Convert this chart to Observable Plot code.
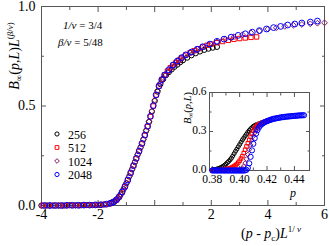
<!DOCTYPE html>
<html><head><meta charset="utf-8">
<script src="https://cdn.jsdelivr.net/npm/d3@7"></script>
<script src="https://cdn.jsdelivr.net/npm/@observablehq/plot@0.6"></script>
<style>
body{margin:0;background:#fff;}
#c{position:relative;width:329px;height:246px;font-family:"Liberation Serif","Times New Roman",serif;}
#c svg{position:absolute;overflow:visible;}
</style></head><body><div id="c"></div>
<script>
// ---- data ----
const sizes = ["256", "512", "1024", "2048"];
const colors = ["#000000", "#ff0000", "#8b1a6b", "#0000ff"];
const symbols = ["circle", "square", "diamond2", "circle"];

// main panel: [(p - pc) L^(1/nu), B L^(beta/nu)]
const s256 = [[-4,0],[-3.8,0],[-3.6,0],[-3.4,0],[-3.2,0],[-3,0.001],[-2.8,0.001],[-2.6,0.001],[-2.4,0.002],[-2.2,0.002],[-2,0.003],[-1.8,0.005],[-1.6,0.01],[-1.5,0.015],[-1.4,0.023],[-1.3,0.036],[-1.2,0.056],[-1.1,0.082],[-1,0.112],[-0.9,0.146],[-0.8,0.182],[-0.7,0.218],[-0.6,0.256],[-0.5,0.292],[-0.4,0.332],[-0.3,0.376],[-0.2,0.42],[-0.1,0.472],[0,0.525],[0.1,0.572],[0.2,0.61],[0.3,0.635],[0.4,0.655],[0.5,0.67],[0.6,0.684],[0.7,0.697],[0.8,0.708],[0.9,0.72],[1,0.73],[1.15,0.743],[1.3,0.755],[1.45,0.765],[1.6,0.774],[1.75,0.782],[1.9,0.788],[2.05,0.793],[2.2,0.797]];
const s512 = [[-3.95,0],[-3.75,0],[-3.55,0],[-3.35,0],[-3.15,0],[-2.95,0.001],[-2.75,0.001],[-2.55,0.001],[-2.35,0.002],[-2.15,0.002],[-1.95,0.003],[-1.75,0.005],[-1.6,0.009],[-1.45,0.018],[-1.35,0.028],[-1.25,0.044],[-1.15,0.067],[-1.05,0.095],[-0.95,0.128],[-0.85,0.163],[-0.75,0.2],[-0.65,0.236],[-0.55,0.273],[-0.45,0.31],[-0.35,0.352],[-0.25,0.397],[-0.15,0.447],[-0.05,0.5],[0.05,0.555],[0.15,0.6],[0.25,0.633],[0.35,0.656],[0.45,0.675],[0.55,0.692],[0.65,0.706],[0.75,0.718],[0.85,0.73],[0.95,0.741],[1.1,0.756],[1.25,0.768],[1.4,0.778],[1.55,0.788],[1.7,0.797],[1.85,0.805],[2,0.811],[2.2,0.818],[2.4,0.824],[2.6,0.83],[2.8,0.835],[3,0.839],[3.2,0.842],[3.4,0.845],[3.6,0.847]];
const s1024 = [[-4,0],[-3.85,0],[-3.7,0],[-3.55,0],[-3.4,0],[-3.25,0],[-3.1,0.001],[-2.95,0.001],[-2.8,0.001],[-2.65,0.001],[-2.5,0.002],[-2.35,0.002],[-2.2,0.002],[-2.05,0.003],[-1.9,0.004],[-1.75,0.006],[-1.6,0.01],[-1.5,0.015],[-1.4,0.023],[-1.3,0.036],[-1.2,0.056],[-1.1,0.082],[-1,0.112],[-0.9,0.146],[-0.8,0.182],[-0.7,0.218],[-0.6,0.256],[-0.5,0.292],[-0.4,0.333],[-0.3,0.377],[-0.2,0.422],[-0.1,0.475],[0,0.53],[0.1,0.578],[0.2,0.615],[0.3,0.642],[0.45,0.67],[0.6,0.697],[0.75,0.72],[0.9,0.738],[1.05,0.752],[1.25,0.767],[1.45,0.781],[1.65,0.794],[1.9,0.808],[2.2,0.822],[2.5,0.836],[2.8,0.848],[3.1,0.858],[3.4,0.868],[3.7,0.877],[4,0.886],[4.3,0.893],[4.6,0.9],[4.9,0.906],[5.2,0.91],[5.5,0.913],[5.75,0.916],[6,0.918]];
const s2048 = [[-3.9,0],[-3.7,0],[-3.5,0],[-3.3,0],[-3.1,0.001],[-2.9,0.001],[-2.7,0.001],[-2.5,0.002],[-2.3,0.002],[-2.1,0.003],[-1.9,0.004],[-1.7,0.007],[-1.55,0.012],[-1.45,0.018],[-1.35,0.029],[-1.25,0.045],[-1.15,0.068],[-1.05,0.096],[-0.95,0.128],[-0.85,0.164],[-0.75,0.2],[-0.65,0.237],[-0.55,0.274],[-0.45,0.312],[-0.35,0.354],[-0.25,0.398],[-0.15,0.448],[-0.05,0.502],[0.05,0.556],[0.15,0.6],[0.25,0.632],[0.35,0.656],[0.5,0.682],[0.65,0.706],[0.8,0.726],[0.95,0.743],[1.1,0.757],[1.3,0.771],[1.5,0.785],[1.7,0.798],[1.95,0.811],[2.2,0.825],[2.45,0.836],[2.7,0.846],[2.95,0.855],[3.2,0.863],[3.45,0.871],[3.7,0.879],[3.95,0.887],[4.2,0.894],[4.45,0.9],[4.7,0.907],[4.95,0.912],[5.2,0.917],[5.5,0.922],[5.75,0.927]];

// inset: [p, B_inf(p,L)]
const i256 = [[0.380,0.005],[0.381,0.006],[0.382,0.008],[0.383,0.01],[0.384,0.013],[0.385,0.017],[0.386,0.021],[0.387,0.027],[0.388,0.033],[0.389,0.041],[0.390,0.05],[0.391,0.06],[0.392,0.07],[0.393,0.082],[0.394,0.095],[0.395,0.112],[0.396,0.13],[0.397,0.148],[0.398,0.165],[0.399,0.183],[0.400,0.2],[0.401,0.218],[0.402,0.235],[0.403,0.25],[0.404,0.265],[0.405,0.28],[0.406,0.295],[0.407,0.308],[0.408,0.32],[0.409,0.33],[0.410,0.34],[0.411,0.346],[0.412,0.352],[0.414,0.36],[0.416,0.368],[0.418,0.375],[0.420,0.382]];
const i512 = [[0.380,0.001],[0.382,0.002],[0.384,0.003],[0.386,0.004],[0.388,0.006],[0.389,0.008],[0.390,0.01],[0.391,0.012],[0.392,0.015],[0.393,0.018],[0.394,0.022],[0.395,0.027],[0.396,0.033],[0.397,0.041],[0.398,0.05],[0.399,0.061],[0.400,0.075],[0.401,0.092],[0.402,0.11],[0.403,0.134],[0.404,0.16],[0.405,0.185],[0.406,0.21],[0.407,0.235],[0.408,0.26],[0.409,0.283],[0.410,0.305],[0.411,0.323],[0.412,0.338],[0.413,0.348],[0.414,0.356],[0.416,0.366],[0.418,0.374],[0.420,0.381],[0.422,0.387]];
const i1024 = [[0.380,0],[0.382,0],[0.384,0],[0.386,0],[0.388,0.001],[0.390,0.001],[0.392,0.001],[0.394,0.002],[0.396,0.002],[0.398,0.003],[0.399,0.004],[0.400,0.006],[0.401,0.01],[0.402,0.018],[0.403,0.033],[0.404,0.057],[0.405,0.088],[0.406,0.123],[0.407,0.16],[0.408,0.197],[0.409,0.234],[0.410,0.264],[0.411,0.29],[0.412,0.313],[0.413,0.33],[0.414,0.343],[0.415,0.352],[0.417,0.365],[0.419,0.374],[0.421,0.382],[0.423,0.388]];
const i2048 = [[0.380,0],[0.381,0],[0.382,0],[0.383,0],[0.384,0],[0.385,0],[0.386,0],[0.387,0],[0.388,0],[0.389,0],[0.390,0],[0.391,0],[0.392,0],[0.393,0],[0.394,0],[0.395,0],[0.396,0],[0.397,0],[0.398,0],[0.399,0],[0.400,0],[0.401,0],[0.402,0],[0.403,0],[0.404,0.001],[0.405,0.005],[0.406,0.02],[0.407,0.055],[0.408,0.105],[0.409,0.155],[0.410,0.205],[0.411,0.248],[0.412,0.283],[0.413,0.31],[0.414,0.33],[0.415,0.345],[0.416,0.355],[0.417,0.363],[0.418,0.37],[0.419,0.375],[0.420,0.38],[0.421,0.384],[0.422,0.388],[0.423,0.392],[0.424,0.395],[0.425,0.398],[0.426,0.4],[0.427,0.402],[0.428,0.404],[0.429,0.406],[0.430,0.408],[0.431,0.41],[0.432,0.411],[0.433,0.413],[0.434,0.414],[0.435,0.415],[0.436,0.416],[0.437,0.417],[0.438,0.418],[0.439,0.419],[0.440,0.42],[0.441,0.421],[0.442,0.422],[0.443,0.423],[0.444,0.424],[0.445,0.424],[0.446,0.425],[0.447,0.425]];

const mainXTicks = [-4, -2, 0, 2, 4, 6];
const mainXMinor = [-3, -1, 1, 3, 5];
const mainYTicks = [0, 0.5, 1];
const mainYMinor = [0.25, 0.75];
const insetXTicks = [0.38, 0.40, 0.42, 0.44];
const insetXMinor = [0.39, 0.41, 0.43];
const insetYTicks = [0, 0.3, 0.6];
const insetYMinor = [0.15, 0.45];

const mainSeries = [s256, s512, s1024, s2048];
const insetSeries = [i256, i512, i1024, i2048];
const mainR = [2.6, 2.5, 2.6, 2.9];
const insetR = [2, 2, 2.1, 2.6];

const FONT = "Liberation Serif, Times New Roman, serif";
const AX = "#555";

// axis builder: tick-only axes on all four sides plus separate label axes
function axes(o) {
  const none = () => "";
  const marks = [];
  for (const [t, sz] of [[o.xt, o.big], [o.xm, o.small]]) {
    marks.push(Plot.axisX({ticks: t, tickSize: -sz, tickFormat: none, label: null, stroke: AX}));
    marks.push(Plot.axisX({anchor: "top", ticks: t, tickSize: -sz, tickFormat: none, label: null, stroke: AX}));
  }
  for (const [t, sz] of [[o.yt, o.big], [o.ym, o.small]]) {
    marks.push(Plot.axisY({ticks: t, tickSize: -sz, tickFormat: none, label: null, stroke: AX}));
    marks.push(Plot.axisY({anchor: "right", ticks: t, tickSize: -sz, tickFormat: none, label: null, stroke: AX}));
  }
  marks.push(Plot.axisX({ticks: o.xt, tickSize: 0, tickPadding: o.xoff, tickFormat: o.xfmt, label: null, fontSize: o.fs}));
  marks.push(Plot.axisY({ticks: o.yt, tickSize: 0, tickPadding: o.yoff, tickFormat: o.yfmt, label: null, fontSize: o.fs, dy: o.ydy || 0}));
  marks.push(Plot.frame({stroke: AX}));
  return marks;
}

const main = Plot.plot({
  width: 329, height: 246,
  marginLeft: 41, marginRight: 5, marginTop: 6, marginBottom: 41,
  x: {domain: [-4, 6]},
  y: {domain: [0, 1]},
  style: {fontFamily: FONT, background: "transparent", color: "#000"},
  marks: [
    ...axes({xt: mainXTicks, xm: mainXMinor, yt: mainYTicks, ym: mainYMinor,
      xfmt: d => d === 0 ? "" : (d < 0 ? "-" + (-d) : String(d)), yfmt: d3.format(".1f"),
      fs: 14, big: 5, small: 3, xoff: 3.5, yoff: 6}),
    ...mainSeries.map((s, i) => Plot.dot(s, {x: d => d[0], y: d => d[1], stroke: colors[i], symbol: symbols[i], r: mainR[i], strokeWidth: 1, fill: "none"}))
  ]
});

const inset = Plot.plot({
  width: 160, height: 120,
  marginLeft: 40, marginRight: 20, marginTop: 12, marginBottom: 30,
  x: {domain: [0.378, 0.451]},
  y: {domain: [0, 0.6]},
  style: {fontFamily: FONT, background: "transparent", color: "#000"},
  marks: [
    ...axes({xt: insetXTicks, xm: insetXMinor, yt: insetYTicks, ym: insetYMinor,
      xfmt: d3.format(".2f"), yfmt: d3.format(".1f"),
      fs: 11.5, big: 4, small: 2.5, xoff: 4.5, yoff: 3, ydy: -1.5}),
    ...insetSeries.map((s, i) => Plot.dot(s, {x: d => d[0], y: d => d[1], stroke: colors[i], symbol: symbols[i], r: insetR[i], strokeWidth: 1, fill: "none"}))
  ]
});

const c = document.getElementById("c");
main.style.left = "0px"; main.style.top = "0px";
inset.style.left = "169px"; inset.style.top = "80px";
c.appendChild(main);
c.appendChild(inset);

// debug check: is "0.44" present as text in the inset?
const hasLabel = Array.from(inset.querySelectorAll("text")).some(t => t.textContent.trim() === "0.44");
if (!hasLabel) document.body.style.background = "#ffcccc";

// ---- text labels ----
function rich(sel, parts) {
  for (const p of parts) {
    const t = sel.append("tspan").text(p.t);
    if (p.i) t.attr("font-style", "italic");
    if (p.fs) t.attr("font-size", p.fs);
    if (p.dy) t.attr("dy", p.dy);
  }
}
const M = d3.select(main);
rich(M.append("text").attr("transform", "translate(19,56) rotate(-90)").attr("text-anchor", "middle")
  .attr("font-size", 14).attr("font-family", FONT).attr("fill", "#000"),
  [{t: "B", i: 1}, {t: "∞", fs: 9, dy: 3}, {t: "(", dy: -3}, {t: "p", i: 1}, {t: ","}, {t: "L", i: 1}, {t: ")"},
   {t: "L", i: 1}, {t: "(", fs: 9, dy: -6}, {t: "β", fs: 9, i: 1}, {t: "/", fs: 9}, {t: "ν", fs: 9, i: 1}, {t: ")", fs: 9}]);
rich(M.append("text").attr("x", 241).attr("y", 238).attr("text-anchor", "start").attr("font-size", 14).attr("font-family", FONT).attr("fill", "#000"),
  [{t: "("}, {t: "p", i: 1}, {t: " - "}, {t: "p", i: 1}, {t: "c", fs: 9, dy: 3}, {t: ")", dy: -3}, {t: "L", i: 1},
   {t: "1/ ", fs: 9, dy: -6}, {t: "ν", fs: 9, i: 1}]);
rich(M.append("text").attr("x", 63).attr("y", 29).attr("text-anchor", "start").attr("font-size", 11).attr("font-family", FONT).attr("fill", "#000"),
  [{t: "1/ν", i: 1}, {t: " = 3/4"}]);
rich(M.append("text").attr("x", 58).attr("y", 46).attr("text-anchor", "start").attr("font-size", 11).attr("font-family", FONT).attr("fill", "#000"),
  [{t: "β/ν", i: 1}, {t: " = 5/48"}]);

// legend
const legendY = [134, 147.5, 161, 174.5];
const symMap = {circle: d3.symbolCircle, square: d3.symbolSquare, diamond2: d3.symbolDiamond2};
sizes.forEach((s, i) => {
  M.append("path").attr("d", d3.symbol(symMap[symbols[i]], Math.PI * 2.1 * 2.1)())
    .attr("transform", `translate(57,${legendY[i]})`).attr("fill", "none").attr("stroke", colors[i]).attr("stroke-width", 1);
  M.append("text").attr("x", 68).attr("y", legendY[i] + 4.5).attr("text-anchor", "start").attr("font-size", 12)
    .attr("font-family", FONT).attr("fill", "#000").text(s);
});

// inset labels
const I = d3.select(inset);
rich(I.append("text").attr("transform", "translate(22,28) rotate(-90)").attr("text-anchor", "middle")
  .attr("font-size", 10.5).attr("font-family", FONT).attr("fill", "#000"),
  [{t: "B", i: 1}, {t: "∞", fs: 7, dy: 2}, {t: "(", dy: -2}, {t: "p", i: 1}, {t: ","}, {t: "L", i: 1}, {t: ")"}]);
I.append("text").attr("x", 124).attr("y", 117).attr("text-anchor", "middle").attr("font-size", 12)
  .attr("font-style", "italic").attr("font-family", FONT).attr("fill", "#000").text("p");
</script>
</body></html>
